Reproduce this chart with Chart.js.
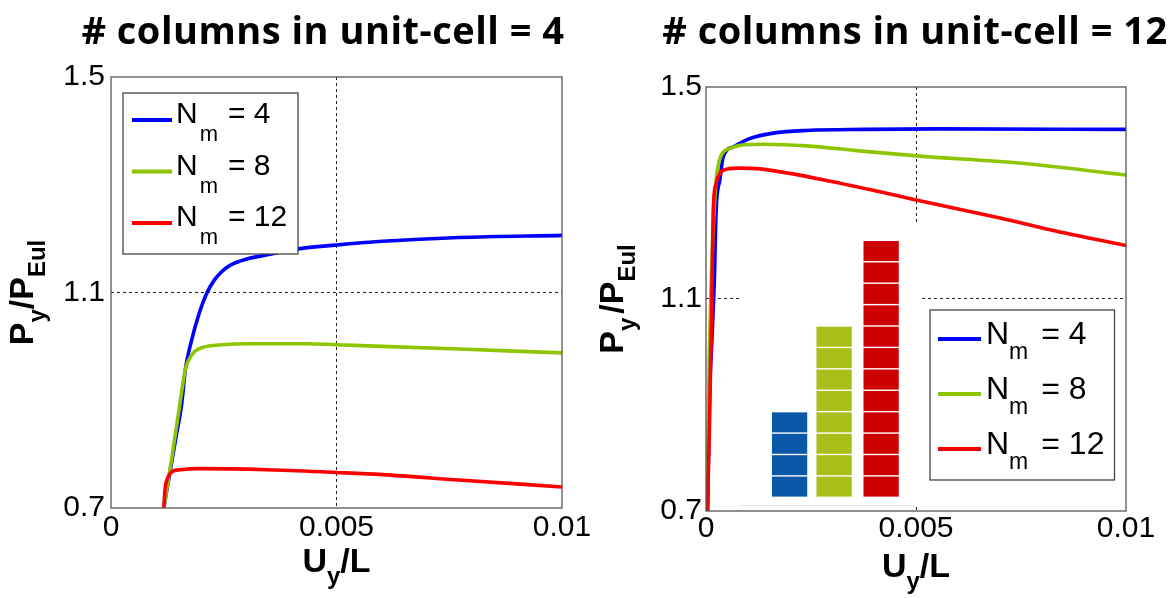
<!DOCTYPE html>
<html>
<head>
<meta charset="utf-8">
<script src="https://cdn.jsdelivr.net/npm/chart.js@4.4.1/dist/chart.umd.min.js"></script>
<style>
  html, body { margin: 0; padding: 0; background: #fff; }
  #wrap { position: relative; width: 1175px; height: 598px; overflow: hidden; }
  .box { position: absolute; top: 0; height: 598px; }
  #boxL { left: 0; width: 600px; }
  #boxR { left: 587px; width: 588px; }
</style>
</head>
<body>
<div id="wrap">
  <div class="box" id="boxL"><canvas id="cL"></canvas></div>
  <div class="box" id="boxR"><canvas id="cR"></canvas></div>
</div>
<script>
// ==========================================
// data
// ==========================================
const xTicks = [0, 0.005, 0.01];
const xTickLabels = ['0', '0.005', '0.01'];
const yTicks = [0.7, 1.1, 1.5];
const yTickLabels = ['0.7', '1.1', '1.5'];
const nmValues = [4, 8, 12];             // legend: N_m = ...
const lineColors = ['#0000ff', '#8dc600', '#ff0000'];

// left panel: # columns in unit-cell = 4
const leftBlueX  = [0.00117, 0.00131, 0.00144, 0.00157, 0.00165, 0.00178, 0.00195, 0.00212, 0.00229, 0.00246, 0.00263, 0.00305, 0.00347, 0.00415, 0.00498, 0.00602, 0.00771, 0.01];
const leftBlueY  = [0.700, 0.768, 0.831, 0.895, 0.958, 1.009, 1.060, 1.098, 1.123, 1.139, 1.150, 1.163, 1.170, 1.181, 1.188, 1.195, 1.202, 1.206];
const leftGreenX = [0.00117, 0.00136, 0.00153, 0.00165, 0.00174, 0.00186, 0.00203, 0.00246, 0.00305, 0.00432, 0.00498, 0.00602, 0.00771, 0.01];
const leftGreenY = [0.700, 0.800, 0.895, 0.958, 0.977, 0.991, 0.998, 1.003, 1.005, 1.005, 1.003, 1.000, 0.995, 0.988];
const leftRedX   = [0.00117, 0.0012, 0.00127, 0.00136, 0.00153, 0.00195, 0.00347, 0.00498, 0.00602, 0.00771, 0.01];
const leftRedY   = [0.700, 0.736, 0.758, 0.768, 0.771, 0.773, 0.771, 0.766, 0.762, 0.752, 0.739];

// right panel: # columns in unit-cell = 12
const rightBlueX  = [0.00004, 0.00008, 0.00015, 0.0002, 0.00024, 0.00033, 0.00041, 0.00065, 0.00105, 0.0016, 0.0024, 0.0038, 0.0055, 0.01];
const rightBlueY  = [0.700, 0.900, 1.040, 1.140, 1.265, 1.325, 1.368, 1.387, 1.403, 1.413, 1.418, 1.420, 1.421, 1.420];
const rightGreenX = [0.00002, 0.00008, 0.00013, 0.00019, 0.00025, 0.00037, 0.00057, 0.00089, 0.00136, 0.0024, 0.00359, 0.00502, 0.0075, 0.01];
const rightGreenY = [0.700, 1.000, 1.150, 1.262, 1.331, 1.372, 1.384, 1.391, 1.392, 1.389, 1.380, 1.370, 1.356, 1.334];
const rightRedX   = [0.00003, 0.00008, 0.00011, 0.000135, 0.00017, 0.00024, 0.00033, 0.00049, 0.00081, 0.00121, 0.002, 0.00279, 0.00398, 0.005, 0.007, 0.00835, 0.01];
const rightRedY   = [0.700, 0.850, 0.980, 1.074, 1.262, 1.318, 1.337, 1.345, 1.347, 1.346, 1.337, 1.325, 1.305, 1.287, 1.253, 1.228, 1.201];

// inset sketch in the right panel: columns of stacked cells
const insetCells  = [4, 8, 12];
const insetColors = ['#0b57a8', '#a9bf1a', '#cc0000'];

const FONT = "'Liberation Sans', Arial, sans-serif";

// text with subscripts: parts = [[text, isSub, gapBefore], ...]
function drawRich(ctx, parts, x, y, o) {
  const fontOf = p => (o.bold ? 'bold ' : '') + (p[1] ? o.sub : o.size) + 'px ' + FONT;
  let w = 0;
  parts.forEach(p => { ctx.font = fontOf(p); w += (p[2] || 0) + ctx.measureText(p[0]).width; });
  let cx = o.center ? x - w / 2 : x;
  ctx.textAlign = 'left'; ctx.textBaseline = 'alphabetic'; ctx.fillStyle = '#000';
  parts.forEach(p => {
    ctx.font = fontOf(p);
    cx += (p[2] || 0);
    ctx.fillText(p[0], cx, p[1] ? y + o.subDy : y);
    cx += ctx.measureText(p[0]).width;
  });
}

const deco = {
  id: 'deco',
  beforeDatasetsDraw(chart, args, o) {
    if (!o.inset) return;
    const { ctx, scales: { x, y } } = chart;
    const b = o.inset;
    ctx.save();
    // white picture background hides the grid lines
    ctx.fillStyle = '#fff';
    ctx.fillRect(x.getPixelForValue(b.x0), y.getPixelForValue(b.yTop), x.getPixelForValue(b.x1) - x.getPixelForValue(b.x0), y.getPixelForValue(b.yBottom) - y.getPixelForValue(b.yTop));
    ctx.strokeStyle = '#e2e2e2'; ctx.lineWidth = 1;
    ctx.beginPath();
    ctx.moveTo(x.getPixelForValue(b.x0), y.getPixelForValue(b.yBottom) + 0.5);
    ctx.lineTo(x.getPixelForValue(b.x1) - 6, y.getPixelForValue(b.yBottom) + 0.5);
    ctx.stroke();
    const base = y.getPixelForValue(b.barBase);
    const cellH = base - y.getPixelForValue(b.barBase + b.cellH);
    insetCells.forEach((n, i) => {
      const xl = x.getPixelForValue(b.barX[i] - b.barW / 2);
      const xr = x.getPixelForValue(b.barX[i] + b.barW / 2);
      for (let k = 0; k < n; k++) {
        ctx.fillStyle = insetColors[i];
        ctx.fillRect(xl, base - (k + 1) * cellH + 1, xr - xl, cellH - 1.4);
      }
    });
    ctx.restore();
  },
  afterDatasetsDraw(chart, args, o) {
    const { ctx, chartArea: a } = chart;
    ctx.save();
    // axes box
    ctx.strokeStyle = '#555'; ctx.lineWidth = 1.3;
    ctx.strokeRect(a.left, a.top, a.right - a.left, a.bottom - a.top);

    // legend
    const L = o.legend;
    ctx.fillStyle = '#fff';
    ctx.fillRect(L.x0, L.y0, L.x1 - L.x0, L.y1 - L.y0);
    ctx.strokeStyle = '#444'; ctx.lineWidth = 1.3;
    ctx.strokeRect(L.x0, L.y0, L.x1 - L.x0, L.y1 - L.y0);
    nmValues.forEach((n, i) => {
      const ly = L.row0 + i * L.rowGap;
      ctx.strokeStyle = lineColors[i]; ctx.lineWidth = 4;
      ctx.beginPath(); ctx.moveTo(L.lx0, ly); ctx.lineTo(L.lx1, ly); ctx.stroke();
      drawRich(ctx, [['N', false], ['m', true, L.mGap], ['= ' + n, false, L.eqGap]], L.tx, ly + L.baseDy, { size: L.size, sub: L.sub, subDy: L.subDy });
    });

    // panel title
    ctx.font = 'bold ' + o.title.size + 'px "Open Sans", Lato, sans-serif';
    ctx.letterSpacing = o.title.spacing + 'px';
    ctx.fillStyle = '#000'; ctx.textAlign = 'center'; ctx.textBaseline = 'alphabetic';
    ctx.fillText(o.title.text, o.title.x, o.title.y);
    ctx.letterSpacing = '0px';

    // axis titles
    const cx = (a.left + a.right) / 2;
    drawRich(ctx, [['U', false], ['y', true], ['/L', false]], cx, a.bottom + o.xTitleDy, { size: 34, sub: 24, subDy: 12, bold: true, center: true });
    ctx.translate(a.left - o.yTitleDx, (a.top + a.bottom) / 2);
    ctx.rotate(-Math.PI / 2);
    drawRich(ctx, [['P', false], ['y', true], ['/P', false, o.slashGap], ['Eul', true]], 0, 0, { size: 34, sub: 24, subDy: 12, bold: true, center: true });
    ctx.restore();
  }
};

function makeChart(id, series, cfg) {
  return new Chart(document.getElementById(id), {
    type: 'line',
    data: {
      datasets: series.map((s, i) => ({
        label: 'N_m = ' + nmValues[i],
        data: s[0].map((v, k) => ({ x: v, y: s[1][k] })),
        borderColor: lineColors[i],
        borderWidth: 3.6,
        pointRadius: 0,
        fill: false,
        cubicInterpolationMode: 'monotone',
        order: 3 - i
      }))
    },
    options: {
      responsive: true, maintainAspectRatio: false, animation: false,
      layout: { padding: { top: cfg.top, right: cfg.right, left: 0, bottom: 0 } },
      plugins: { legend: { display: false }, tooltip: { enabled: false }, deco: cfg.deco },
      scales: {
        x: {
          type: 'linear', min: 0, max: 0.01,
          afterBuildTicks: s => { s.ticks = xTicks.map(v => ({ value: v })); },
          afterFit: s => { s.height = cfg.xH; },
          ticks: { callback: (v, i) => xTickLabels[i], font: { family: FONT, size: 30 }, color: '#000', padding: cfg.xPad, maxRotation: 0, autoSkip: false },
          grid: { color: c => (c.tick && c.tick.value === 0.005 ? '#222' : 'rgba(0,0,0,0)'), lineWidth: 1, drawTicks: false },
          border: { display: false, dash: [3, 3] }
        },
        y: {
          type: 'linear', min: 0.7, max: 1.5,
          afterBuildTicks: s => { s.ticks = yTicks.map(v => ({ value: v })); },
          afterFit: s => { s.width = cfg.yW; },
          ticks: { callback: (v, i) => yTickLabels[i], font: { family: FONT, size: 30 }, color: '#000', padding: cfg.yPad, autoSkip: false },
          grid: { color: c => (c.tick && c.tick.value === 1.1 ? '#222' : 'rgba(0,0,0,0)'), lineWidth: 1, drawTicks: false },
          border: { display: false, dash: [3, 3] }
        }
      }
    },
    plugins: [deco]
  });
}

makeChart('cL', [[leftBlueX, leftBlueY], [leftGreenX, leftGreenY], [leftRedX, leftRedY]], {
  top: 77, right: 38, xH: 90, yW: 111, xPad: 2, yPad: 6,
  deco: {
    title: { text: '# columns in unit-cell = 4', x: 323, y: 44, size: 38, spacing: 0.5 },
    legend: { x0: 123, y0: 93, x1: 298, y1: 254, lx0: 132, lx1: 172, row0: 120, rowGap: 51.5, tx: 176, baseDy: 3, size: 30, sub: 22, subDy: 18, mGap: 2, eqGap: 10 },
    xTitleDy: 64, yTitleDx: 78, slashGap: 0
  }
});

makeChart('cR', [[rightBlueX, rightBlueY], [rightGreenX, rightGreenY], [rightRedX, rightRedY]], {
  top: 87, right: 49, xH: 87, yW: 119, xPad: 0, yPad: 4,
  deco: {
    title: { text: '# columns in unit-cell = 12', x: 328, y: 44, size: 38, spacing: 0.5 },
    legend: { x0: 343, y0: 310, x1: 527.5, y1: 480, lx0: 351, lx1: 394, row0: 339, rowGap: 55, tx: 399, baseDy: 5, size: 32, sub: 23, subDy: 15, mGap: 0, eqGap: 13 },
    inset: { x0: 0.00079, x1: 0.0051, yTop: 1.243, yBottom: 0.711, barX: [0.00199, 0.00305, 0.00417], barW: 0.00084, barBase: 0.7264, cellH: 0.0404 },
    xTitleDy: 66, yTitleDx: 83, slashGap: 4
  }
});
</script>
</body>
</html>
